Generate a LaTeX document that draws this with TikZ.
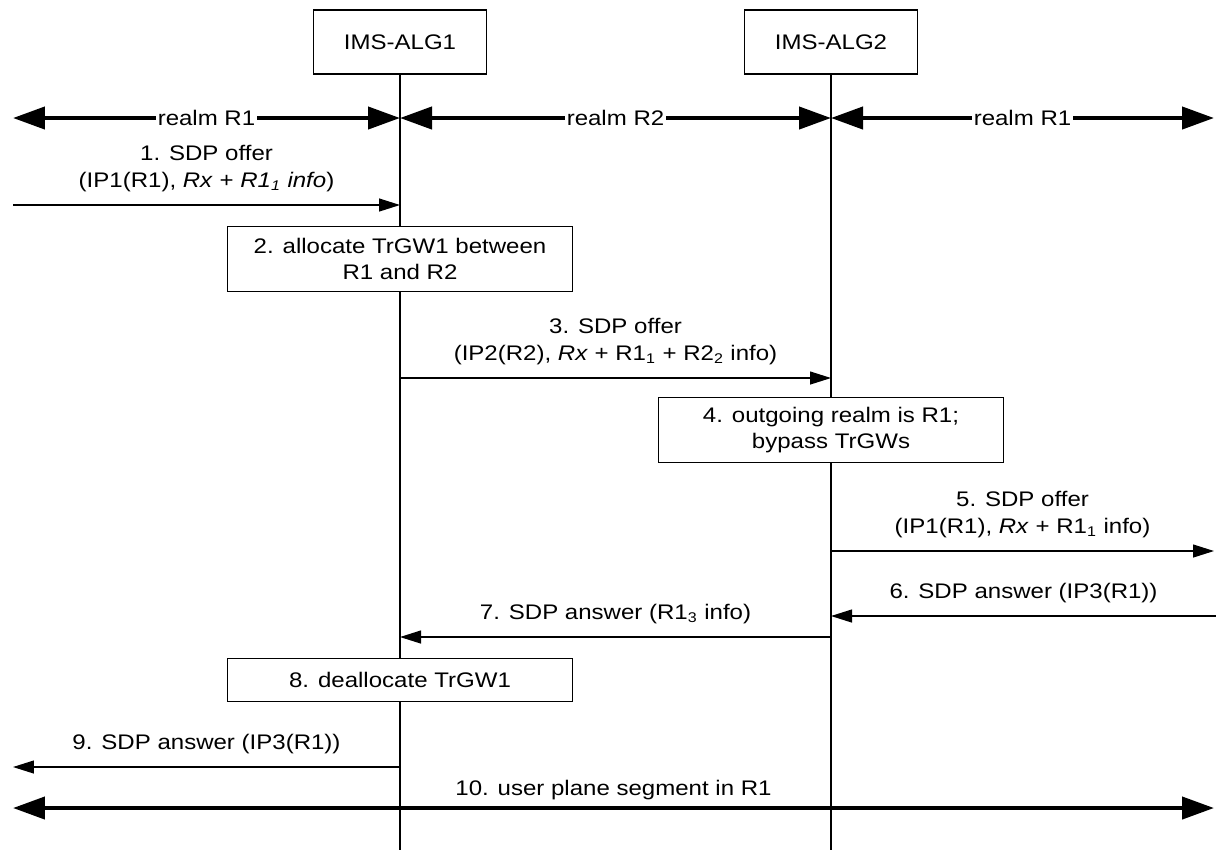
\documentclass[tikz,border=0pt]{standalone}
\usepackage{fontspec}
\setmainfont{Liberation Sans}[FakeStretch=1.14]
\usetikzlibrary{arrows.meta}

\begin{document}
\begin{tikzpicture}[x=0.02cm, y=-0.02cm,
  every node/.style={font=\fontsize{12}{15}\selectfont},
  entity/.style={draw, line width=0.7pt, minimum width=3.46cm, minimum height=1.28cm},
  action/.style={draw, fill=white, line width=0.7pt, minimum width=6.9cm, minimum height=1.3cm, align=center},
  msg/.style={line width=0.7pt, -{Triangle[length=0.42cm, width=0.26cm]}},
  realm/.style={line width=2.4pt, {Triangle[length=0.64cm, width=0.44cm]}-{Triangle[length=0.64cm, width=0.44cm]}},
  realmlabel/.style={midway, fill=white, inner xsep=1pt, inner ysep=1pt},
  msglabel/.style={midway, above=4pt, align=center}]
  \useasboundingbox (0,0) rectangle (1216,850);

  % Entities and lifelines
  \node[entity] (alg1) at (400,42) {IMS-ALG1};
  \node[entity] (alg2) at (831,42) {IMS-ALG2};
  \coordinate (end1) at (400,850);
  \coordinate (end2) at (831,850);
  \draw[line width=0.7pt] (alg1) -- (end1);
  \draw[line width=0.7pt] (alg2) -- (end2);

  % Realms
  \coordinate (rl) at (13,118);
  \coordinate (rr) at (1214,118);
  \draw[realm] (rl) -- (alg1 |- rl) node[realmlabel] {realm R1};
  \draw[realm] (alg1 |- rl) -- (alg2 |- rl) node[realmlabel] {realm R2};
  \draw[realm] (alg2 |- rl) -- (rr) node[realmlabel] {realm R1};

  % 1. offer into IMS-ALG1
  \coordinate (m1) at (13,205);
  \draw[msg] (m1) -- (alg1 |- m1)
    node[msglabel] {1. SDP offer\\(IP1(R1), \textit{Rx} + \textit{R1\textsubscript{1} info})};

  % 2. allocate
  \node[action] (alloc) at (400,259) {2. allocate TrGW1 between\\R1 and R2};

  % 3. offer to IMS-ALG2
  \coordinate (m3) at (400,378);
  \draw[msg] (m3) -- (alg2 |- m3)
    node[msglabel] {3. SDP offer\\(IP2(R2), \textit{Rx} + R1\textsubscript{1} + R2\textsubscript{2} info)};

  % 4. bypass
  \node[action] (bypass) at (831,430) {4. outgoing realm is R1;\\bypass TrGWs};

  % 5. offer out
  \coordinate (m5) at (1214,551);
  \draw[msg] (alg2 |- m5) -- (m5)
    node[msglabel] {5. SDP offer\\(IP1(R1), \textit{Rx} + R1\textsubscript{1} info)};

  % 6. answer back
  \coordinate (m6) at (1216,616);
  \draw[msg] (m6) -- (alg2 |- m6) node[msglabel] {6. SDP answer (IP3(R1))};

  % 7. answer to IMS-ALG1
  \coordinate (m7) at (831,637);
  \draw[msg] (m7) -- (alg1 |- m7) node[msglabel] {7. SDP answer (R1\textsubscript{3} info)};

  % 8. deallocate
  \node[action, minimum height=0.86cm] (dealloc) at (400,680) {8. deallocate TrGW1};

  % 9. answer out
  \coordinate (m9) at (13,767);
  \draw[msg] (alg1 |- m9) -- (m9) node[msglabel] {9. SDP answer (IP3(R1))};

  % 10. user plane
  \coordinate (ul) at (13,808);
  \coordinate (ur) at (1214,808);
  \draw[realm] (ul) -- (ur) node[msglabel, above=-4pt] {10. user plane segment in R1};
\end{tikzpicture}
\end{document}
